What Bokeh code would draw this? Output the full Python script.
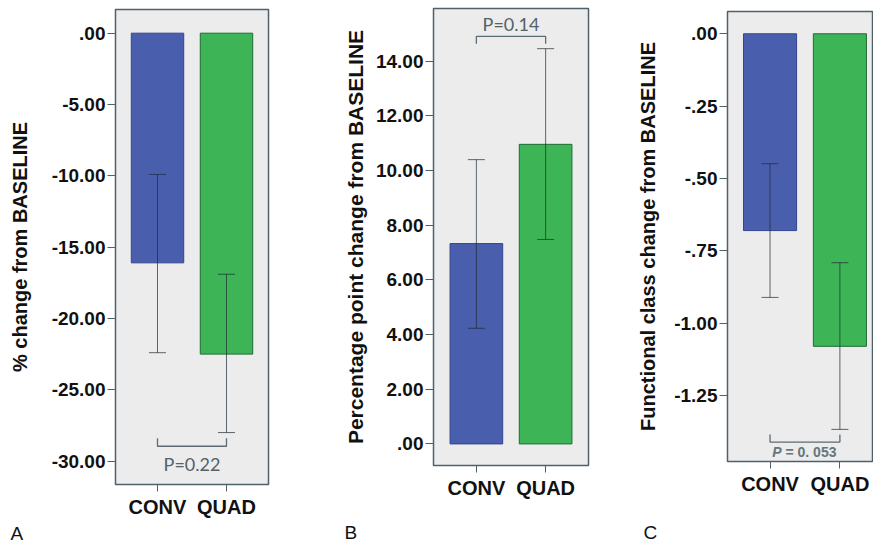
from bokeh.plotting import figure
from bokeh.models import Range1d, FixedTicker, Whisker, TeeHead, ColumnDataSource, Title
from bokeh.layouts import row
from bokeh.embed import file_html
from bokeh.resources import INLINE
from bokeh.core.properties import value

# ---------------- data ----------------
groups = ["CONV", "QUAD"]
group_pos = [1, 2]
bar_colors = ["#4a5eae", "#3db556"]
bar_edges = ["#34458f", "#1f6b35"]

# Panel A: % change from baseline
a_mean = [-16.1, -22.5]
a_lower = [-22.4, -28.0]
a_upper = [-9.9, -16.9]
a_ticks = [0, -5, -10, -15, -20, -25, -30]
a_tick_labels = [".00", "-5.00", "-10.00", "-15.00", "-20.00", "-25.00", "-30.00"]
a_p_text = "P=0.22"
a_bracket = [-28.96, -28.4]     # [bridge level, leg end]
a_p_y = -30.2

# Panel B: percentage point change
b_mean = [7.33, 10.96]
b_lower = [4.23, 7.48]
b_upper = [10.40, 14.46]
b_ticks = [0, 2, 4, 6, 8, 10, 12, 14]
b_tick_labels = [".00", "2.00", "4.00", "6.00", "8.00", "10.00", "12.00", "14.00"]
b_p_text = "P=0.14"
b_bracket = [14.91, 14.64]
b_p_y = 15.38

# Panel C: functional class change
c_mean = [-0.68, -1.08]
c_lower = [-0.911, -1.367]
c_upper = [-0.449, -0.791]
c_ticks = [0, -0.25, -0.5, -0.75, -1, -1.25]
c_tick_labels = [".00", "-.25", "-.50", "-.75", "-1.00", "-1.25"]
c_p_text = "= 0. 053"
c_bracket = [-1.411, -1.385]
c_p_y = -1.446

FRAME = "#4f6168"
WHISK = "#1e2a35"
H = 544


def panel(mean, lower, upper, ticks, tick_labels, ytitle, yr, xr, width,
          bl, br, bt, bb, title_size, title_standoff, letter, letter_offset, spacer):
    p = figure(width=width, height=H, output_backend="svg", toolbar_location=None,
               x_range=Range1d(*xr), y_range=Range1d(*yr),
               min_border_left=bl, min_border_right=br, min_border_top=bt,
               min_border_bottom=bb)
    try:
        p.frame_align = False
    except Exception:
        pass
    p.background_fill_color = "#ececec"
    p.border_fill_color = "white"
    p.outline_line_color = FRAME
    p.outline_line_width = 1.5
    p.grid.visible = False

    src = ColumnDataSource(dict(x=group_pos, val=mean, lower=lower, upper=upper,
                                fill=bar_colors, edge=bar_edges))
    p.vbar(x="x", top="val", bottom=0, width=0.76, fill_color="fill",
           line_color="edge", line_width=1, source=src)
    w = Whisker(base="x", upper="upper", lower="lower", source=src,
                line_color=WHISK, line_alpha=0.7, line_width=1,
                upper_head=TeeHead(size=17, line_color=WHISK, line_alpha=0.7, line_width=1),
                lower_head=TeeHead(size=17, line_color=WHISK, line_alpha=0.7, line_width=1))
    w.level = "annotation"
    p.add_layout(w)

    overrides = {t: s for t, s in zip(ticks, tick_labels)}
    p.yaxis.ticker = FixedTicker(ticks=ticks)
    p.yaxis.major_label_overrides = overrides
    p.xaxis.ticker = FixedTicker(ticks=group_pos)
    p.xaxis.major_label_overrides = {g: s for g, s in zip(group_pos, groups)}

    for ax in (p.xaxis[0], p.yaxis[0]):
        ax.axis_line_color = None
        ax.major_tick_line_color = FRAME
        ax.major_tick_in = 0
        ax.major_tick_out = 8
        ax.minor_tick_line_color = None
        ax.major_label_text_font = "Liberation Sans"
        ax.major_label_text_font_style = "bold"
        ax.major_label_text_color = "#111111"
    p.yaxis.major_label_text_font_size = "19px"
    p.yaxis.major_label_standoff = 2
    p.xaxis.major_label_text_font_size = "20px"
    p.xaxis.major_label_standoff = 4
    p.xaxis.major_tick_out = 7

    p.yaxis.axis_label = ytitle
    p.yaxis.axis_label_text_font = "Liberation Sans"
    p.yaxis.axis_label_text_font_style = "bold"
    p.yaxis.axis_label_text_font_size = title_size
    p.yaxis.axis_label_text_color = "#111111"
    p.yaxis.axis_label_standoff = title_standoff

    if spacer > 0:
        gap = Title(text=" ", text_font_size="1px", standoff=spacer - 1)
        p.add_layout(gap, "below")
    t = Title(text=letter, align="left", offset=letter_offset,
              text_font="Liberation Sans", text_font_style="normal",
              text_font_size="19px", text_color="#111111", standoff=0)
    p.add_layout(t, "below")
    return p


def bracket(p, levels, color="#5a6b72"):
    bridge, leg = levels
    p.multi_line(xs=[[group_pos[0], group_pos[0], group_pos[1], group_pos[1]]],
                 ys=[[leg, bridge, bridge, leg]], line_color=color, line_width=1.3)


pa = panel(a_mean, a_lower, a_upper, a_ticks, a_tick_labels, "% change from BASELINE",
           (-31.64, 1.66), (0.391, 2.609), 300, 115, 32, 9, 60, "20px", 18,
           "A", -105, 0)
bracket(pa, a_bracket)
pa.text(x=[1.5], y=[a_p_y], text=[a_p_text], text_font=value("Lato"),
        text_font_size="18px", text_color="#526268", text_align="center",
        text_baseline="middle")

pb = panel(b_mean, b_lower, b_upper, b_ticks, b_tick_labels,
           "Percentage point change from BASELINE",
           (-0.79, 15.93), (0.381, 2.619), 310, 133, 22, 8, 79, "21px", 6,
           "B", -89, 16)
bracket(pb, b_bracket)
pb.text(x=[1.5], y=[b_p_y], text=[b_p_text], text_font=value("Lato"),
        text_font_size="18px", text_color="#526268", text_align="center",
        text_baseline="middle")

pc = panel(c_mean, c_lower, c_upper, c_ticks, c_tick_labels,
           "Functional class change from BASELINE",
           (-1.478, 0.077), (0.391, 2.481), 263, 117, 0, 11, 83, "20px", 12,
           "C", -84, 20)
bracket(pc, c_bracket)
pc.text(x=[1.5], y=[c_p_y], text=["P"], text_font=value("Liberation Sans"),
        text_font_style="bold italic", text_font_size="14px", text_color="#66767c",
        text_align="center", text_baseline="middle", x_offset=-28)
pc.text(x=[1.5], y=[c_p_y], text=[c_p_text], text_font=value("Liberation Sans"),
        text_font_style="bold", text_font_size="14px", text_color="#66767c",
        text_align="center", text_baseline="middle", x_offset=6)

layout = row(pa, pb, pc, spacing=0)
open("out.html", "w").write(file_html(layout, INLINE))
